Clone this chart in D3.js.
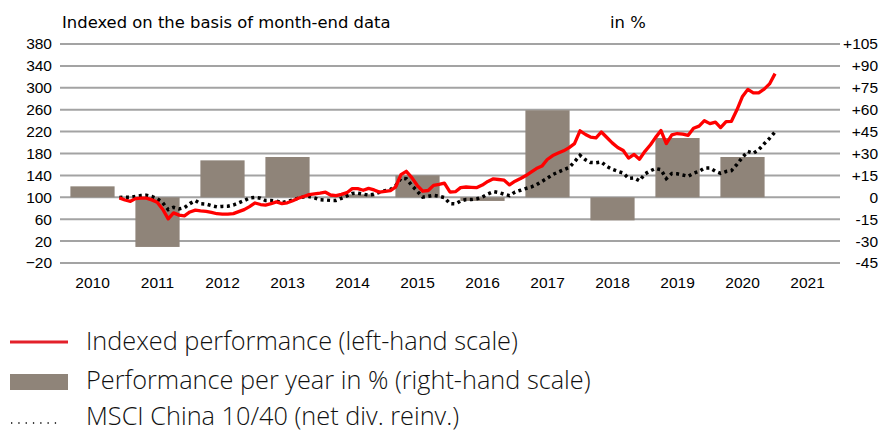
<!DOCTYPE html>
<html>
<head>
<meta charset="utf-8">
<script src="https://cdn.jsdelivr.net/npm/d3@7"></script>
<style>
  body { margin: 0; background: #fff; }
  svg { display: block; }
</style>
</head>
<body>
<svg id="chart" width="881" height="432"></svg>
<script>
// year categories and bar values (right-hand scale, % per year)
const years = [2010, 2011, 2012, 2013, 2014, 2015, 2016, 2017, 2018, 2019, 2020, 2021];
const yearPerf = [7.5, -34, 25.3, 27.6, 2, 15, -2.5, 59.6, -15.8, 40.6, 27.6, null];

// tick labels
const leftTicks = [-20, 20, 60, 100, 140, 180, 220, 260, 300, 340, 380];
const rightTicks = ["-45", "-30", "-15", "0", "+15", "+30", "+45", "+60", "+75", "+90", "+105"];

// month-end series, Nov 2010 .. Dec 2020
const firstMonth = new Date(2010, 10, 1);
const lastMonth = new Date(2020, 11, 1);

const indexedPerf = [
  99, 95.1, 92.7, 97.6, 98.5, 98.5, 95.3, 90.9, 78.1, 60.7, 71.5, 67.5,
  66.2, 73.2, 76.6, 75.3, 74.4, 72.6, 70.0, 69.3, 69.1, 70.2, 73.9, 77.5,
  83.0, 89.6, 86.8, 85.9, 88.3, 91.6, 88.5, 90.0, 93.8, 98.2, 101.5, 104.9,
  106.4, 107.7, 109.3, 104.2, 102.9, 105.3, 108.4, 115.9, 115.9, 112.8, 116.3, 113.5,
  109.5, 111.0, 112.4, 118.4, 141.5, 147.5, 136.0, 121.9, 111.1, 112.4, 121.9, 123.7,
  125.9, 109.7, 110.2, 117.7, 118.8, 118.3, 117.7, 122.3, 128.9, 133.8, 132.5, 131.2,
  122.6, 129.4, 134.3, 139.3, 146.0, 152.4, 157.0, 169.0, 176.2, 180.7, 184.9, 190.8,
  197.9, 221.5, 214.7, 210.1, 208.7, 219.3, 209.2, 199.4, 191.0, 185.5, 171.6, 178.2,
  169.6, 184.0, 195.9, 209.0, 222.0, 198.1, 214.0, 216.5, 215.3, 213.2, 226.2, 230.0,
  239.9, 234.6, 237.2, 227.3, 238.4, 238.8, 259.8, 283.6, 297.1, 290.7, 290.7, 297.6,
  307.1, 325.9
];

const msciChina = [
  99.5, 100.2, 100, 101.6, 103.1, 103.8, 101.5, 97.4, 90.1, 77.5, 81.6, 78.8,
  81.0, 88.5, 94.0, 88.3, 87.6, 84.8, 82.5, 83.4, 83.6, 85.9, 89.8, 94.0,
  98.7, 99.8, 98.4, 94.0, 94.0, 93.2, 90.0, 92.5, 95.3, 98.5, 100.7, 101.5,
  98.9, 95.6, 95.1, 94.3, 94.3, 98.2, 102.6, 106.9, 107.7, 105.8, 104.0, 105.8,
  109.1, 112.1, 114.4, 120.8, 134.7, 133.8, 121.9, 111.1, 100.2, 101.8, 103.5, 102.0,
  99.6, 88.5, 87.9, 93.2, 95.8, 95.8, 97.3, 100.4, 106.0, 110.4, 108.8, 105.7,
  102.9, 109.7, 112.8, 115.9, 118.8, 123.0, 129.0, 134.9, 141.5, 146.2, 150.2, 154.4,
  164.8, 176.7, 168.5, 163.6, 163.0, 164.5, 156.3, 151.1, 147.5, 144.2, 134.7, 135.3,
  130.1, 142.7, 148.4, 152.6, 150.4, 134.2, 143.5, 142.9, 140.7, 138.4, 143.8, 147.5,
  153.3, 153.5, 147.5, 143.8, 147.1, 148.8, 160.3, 172.7, 183.8, 180.4, 186.8, 197.7,
  207.6, 219.3
];

const svg = d3.select("#chart");
const plotLeft = 60, plotRight = 840, plotTop = 44, plotBottom = 263;

const yLeft = d3.scaleLinear().domain([-20, 380]).range([plotBottom, plotTop]);
const yRight = d3.scaleLinear().domain([-45, 105]).range([plotBottom, plotTop]);
const xBand = d3.scaleBand().domain(years).range([plotLeft, plotRight])
  .paddingInner(0.32).paddingOuter(0.16);
const xTime = d3.scaleTime()
  .domain([new Date(2010, 0, 1), new Date(2022, 0, 1)])
  .range([plotLeft, plotRight]);

// month-end points sit at the start of the following month
const months = d3.timeMonth.range(firstMonth, d3.timeMonth.offset(lastMonth, 1))
  .map(d => d3.timeMonth.offset(d, 1));

// gridlines
svg.append("g")
  .selectAll("line")
  .data(leftTicks)
  .join("line")
  .attr("x1", plotLeft).attr("x2", plotRight)
  .attr("y1", d => yLeft(d)).attr("y2", d => yLeft(d))
  .attr("stroke", "#a3a3a3")
  .attr("stroke-width", 2);

// bars
svg.append("g")
  .selectAll("rect")
  .data(years.map((y, i) => ({ year: y, v: yearPerf[i] })).filter(d => d.v != null))
  .join("rect")
  .attr("x", d => xBand(d.year))
  .attr("width", xBand.bandwidth())
  .attr("y", d => yRight(Math.max(0, d.v)))
  .attr("height", d => Math.abs(yRight(d.v) - yRight(0)))
  .attr("fill", "#8f8479");

// lines
const line = (scale, vals) => d3.line()
  .x((d, i) => xTime(months[i]))
  .y(d => scale(d))(vals);

svg.append("path")
  .attr("d", line(yLeft, msciChina))
  .attr("fill", "none")
  .attr("stroke", "#000")
  .attr("stroke-width", 3.5)
  .attr("stroke-dasharray", "3,3.5");

svg.append("path")
  .attr("d", line(yLeft, indexedPerf))
  .attr("fill", "none")
  .attr("stroke", "#ff0000")
  .attr("stroke-width", 3.3)
  .attr("stroke-linejoin", "round");

// axes (labels only)
const axisFont = "'Liberation Sans', Arial, sans-serif";
const axisSize = 15.5;

const yAxisL = d3.axisLeft(yLeft).tickValues(leftTicks).tickSize(0).tickPadding(0);
svg.append("g")
  .attr("transform", `translate(52,0)`)
  .call(yAxisL)
  .call(g => g.select(".domain").remove())
  .call(g => g.selectAll("text").attr("font-family", axisFont).attr("font-size", axisSize).attr("fill", "#000"));

const yAxisR = d3.axisRight(yRight).tickValues(d3.range(-45, 106, 15))
  .tickFormat((d, i) => rightTicks[i]).tickSize(0).tickPadding(0);
svg.append("g")
  .attr("transform", `translate(878,0)`)
  .call(yAxisR)
  .call(g => g.select(".domain").remove())
  .call(g => g.selectAll("text").attr("text-anchor", "end")
    .attr("font-family", axisFont).attr("font-size", axisSize).attr("fill", "#000"));

const xAxis = d3.axisBottom(xBand).tickSize(0).tickPadding(0);
svg.append("g")
  .attr("transform", `translate(0,277)`)
  .call(xAxis)
  .call(g => g.select(".domain").remove())
  .call(g => g.selectAll("text").attr("font-family", axisFont).attr("font-size", axisSize).attr("fill", "#000"));

// header texts
const headFont = "'DejaVu Sans', Verdana, sans-serif";
svg.append("text").attr("x", 62).attr("y", 28)
  .attr("font-family", headFont).attr("font-size", 16.4)
  .text("Indexed on the basis of month-end data");
svg.append("text").attr("x", 610).attr("y", 28)
  .attr("font-family", headFont).attr("font-size", 16.4)
  .text("in %");

// legend
const legendFont = "'Open Sans', 'Noto Sans', sans-serif";
const legend = svg.append("g");
const items = [
  { label: "Indexed performance (left-hand scale)", kind: "line", y: 342, base: 350 },
  { label: "Performance per year in % (right-hand scale)", kind: "bar", y: 382, base: 389 },
  { label: "MSCI China 10/40 (net div. reinv.)", kind: "dots", y: 423, base: 425 }
];
items.forEach(it => {
  if (it.kind === "line") {
    legend.append("line").attr("x1", 10).attr("x2", 68).attr("y1", it.y).attr("y2", it.y)
      .attr("stroke", "#e3202a").attr("stroke-width", 3);
  } else if (it.kind === "bar") {
    legend.append("rect").attr("x", 10).attr("y", it.y - 8).attr("width", 58).attr("height", 16)
      .attr("fill", "#8f8479");
  } else {
    legend.append("line").attr("x1", 11).attr("x2", 62).attr("y1", it.y).attr("y2", it.y)
      .attr("stroke", "#000").attr("stroke-width", 1.3).attr("stroke-dasharray", "1.3,6");
  }
  legend.append("text").attr("x", 86).attr("y", it.base)
    .attr("font-family", legendFont).attr("font-size", 25.3).attr("font-weight", 300)
    .attr("fill", "#111")
    .text(it.label);
});
</script>
</body>
</html>
